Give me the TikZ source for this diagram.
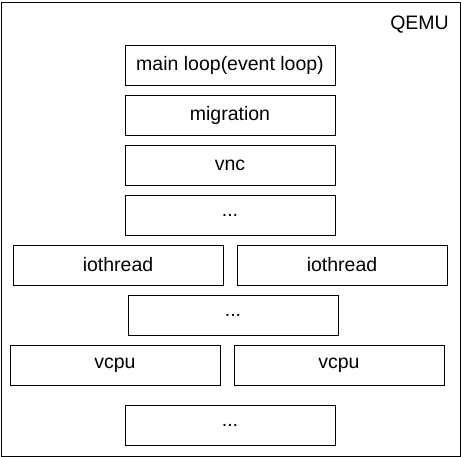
\documentclass[tikz,border=0pt]{standalone}
\usepackage{fontspec}
\setmainfont{Liberation Sans}
\usetikzlibrary{positioning}

\begin{document}
\begin{tikzpicture}[x=1pt,y=-1pt,
    block/.style={draw, line width=1pt, minimum width=210pt, minimum height=40pt, inner sep=0pt, font=\fontsize{19.5}{21}\selectfont},
    frame/.style={draw, line width=1pt, inner sep=0pt, anchor=north west}]
    \useasboundingbox (0,0) rectangle (461,456);

    % outer qemu process
    \node[frame, minimum width=459.5pt, minimum height=454pt] (qemu) at (0.5,1.5) {};
    \node[anchor=base east, inner sep=0pt, font=\fontsize{19.5}{21}\selectfont] (qemulabel) at (449,29.5) {QEMU};

    % threads
    \node[block] (mainloop) at (230,65) {main loop(event loop)};
    \node[block] (migration) at (230,115) {migration};
    \node[block] (vnc) at (230,165) {vnc};
    \node[block] (more1) at (230,215) {...};

    \node[block] (iothread1) at (118,265) {iothread};
    \node[block] (iothread2) at (342,265) {iothread};

    \node[block] (more2) at (233,315) {...};

    \node[block] (vcpu1) at (115,365) {vcpu};
    \node[block] (vcpu2) at (339,365) {vcpu};

    \node[block] (more3) at (230,425) {...};
\end{tikzpicture}
\end{document}
